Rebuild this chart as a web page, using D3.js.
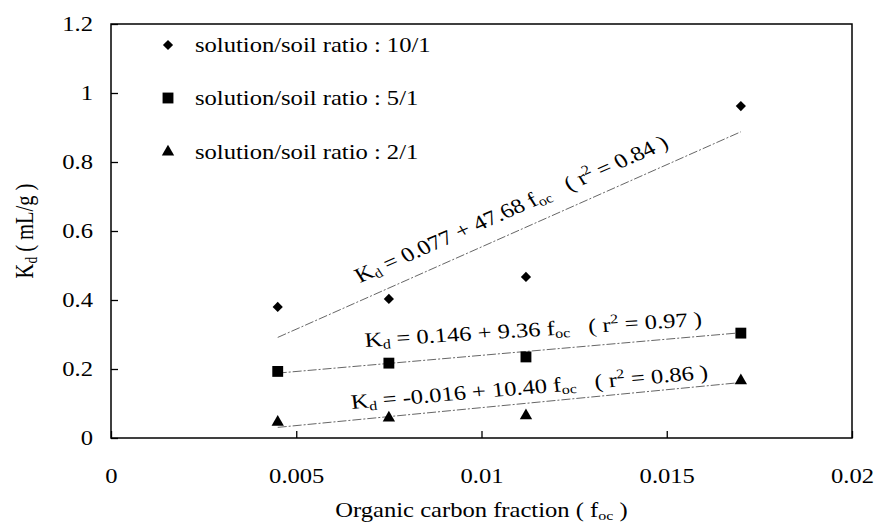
<!DOCTYPE html>
<html>
<head>
<meta charset="utf-8">
<script src="https://cdn.jsdelivr.net/npm/d3@7"></script>
<style>
  body { margin: 0; background: #fff; }
</style>
</head>
<body>
<svg id="chart" width="875" height="529"></svg>
<script>
// data
var foc = [0.0045, 0.0075, 0.0112, 0.0170];
var kd10 = [0.380, 0.403, 0.467, 0.962];
var kd5 = [0.193, 0.217, 0.235, 0.304];
var kd2 = [0.046, 0.058, 0.065, 0.166];

var seriesNames = ['solution/soil ratio : 10/1', 'solution/soil ratio : 5/1', 'solution/soil ratio : 2/1'];
var seriesShapes = ['diamond', 'square', 'triangle'];

// regression lines  Kd = a + b * foc
var fitA = [0.077, 0.146, -0.016];
var fitB = [47.68, 9.36, 10.40];
var fitR2 = ['0.84', '0.97', '0.86'];
var fitA_txt = ['0.077', '0.146', '-0.016'];
var fitB_txt = ['47.68', '9.36', '10.40'];
// where each equation label sits (data units) and its tilt
var labelX = [0.00672, 0.00686, 0.0065];
var labelY = [0.449, 0.264, 0.084];
var labelRot = [-27.8, -4.3, -5.8];

var xTicks = [0, 0.005, 0.01, 0.015, 0.02];
var xTickLabels = ['0', '0.005', '0.01', '0.015', '0.02'];
var yTicks = [0, 0.2, 0.4, 0.6, 0.8, 1, 1.2];
var yTickLabels = ['0', '0.2', '0.4', '0.6', '0.8', '1', '1.2'];

var SX = 1.2;      // the scan is a bit wider than tall, text looks stretched
var FS = 20.5;
var FONT = "'Liberation Serif', 'Times New Roman', Times, serif";

var svg = d3.select('#chart');
var m = {top: 24, right: 23, bottom: 91, left: 111};
var w = 875 - m.left - m.right;
var h = 529 - m.top - m.bottom;

var g = svg.append('g').attr('transform', 'translate(' + m.left + ',' + m.top + ')');

var x = d3.scaleLinear().domain([0, 0.02]).range([0, w]);
var y = d3.scaleLinear().domain([0, 1.2]).range([h, 0]);

function stretch(sel, px, py, rot) {
  sel.attr('transform', 'translate(' + px + ',' + py + ') scale(' + SX + ',1)' + (rot ? ' rotate(' + rot + ')' : ''));
}
function txt(parent) {
  return parent.append('text').attr('font-family', FONT).attr('font-size', FS).attr('fill', '#000');
}

// axes
var yAxis = d3.axisLeft(y).tickValues(yTicks).tickSize(-7).tickPadding(0)
  .tickFormat(function(d, i) { return yTickLabels[i]; });
var ya = g.append('g').call(yAxis).attr('font-family', FONT).attr('font-size', FS);
ya.select('.domain').remove();
ya.selectAll('.tick line').attr('stroke', '#000').attr('stroke-width', 1.3);
ya.selectAll('.tick text')
  .attr('font-family', FONT).attr('font-size', FS).attr('x', null).attr('dy', '0.34em')
  .attr('text-anchor', 'end')
  .attr('transform', 'translate(-18,0) scale(' + SX + ',1)');

var xAxis = d3.axisBottom(x).tickValues(xTicks).tickSize(-7).tickPadding(0)
  .tickFormat(function(d, i) { return xTickLabels[i]; });
var xa = g.append('g').attr('transform', 'translate(0,' + h + ')').call(xAxis)
  .attr('font-family', FONT).attr('font-size', FS);
xa.select('.domain').remove();
xa.selectAll('.tick line').attr('stroke', '#000').attr('stroke-width', 1.3);
xa.selectAll('.tick text')
  .attr('font-family', FONT).attr('font-size', FS).attr('y', null).attr('dy', null)
  .attr('text-anchor', 'middle')
  .attr('transform', 'translate(0,45) scale(' + SX + ',1)');

// frame
g.append('rect').attr('x', 0).attr('y', 0).attr('width', w).attr('height', h)
  .attr('fill', 'none').attr('stroke', '#000').attr('stroke-width', 1.5);

// axis titles
var yt = txt(svg).attr('text-anchor', 'middle');
yt.append('tspan').text('K');
yt.append('tspan').attr('font-size', FS * 0.65).attr('dy', 3).text('d');
yt.append('tspan').attr('dy', -3).text(' ( mL/g )');
stretch(yt, 33, m.top + h / 2, -90);

var xt = txt(svg).attr('text-anchor', 'middle');
xt.append('tspan').text('Organic carbon fraction ( f');
xt.append('tspan').attr('font-size', FS * 0.65).attr('dy', 3).text('oc');
xt.append('tspan').attr('dy', -3).text('  )');
stretch(xt, m.left + w / 2, 517, 0);

// fitted lines
var fitLine = d3.line().x(function(d) { return x(d[0]); }).y(function(d) { return y(d[1]); });
var xmin = d3.min(foc), xmax = d3.max(foc);
fitA.forEach(function(a, i) {
  var b = fitB[i];
  g.append('path')
    .attr('d', fitLine([[xmin, a + b * xmin], [xmax, a + b * xmax]]))
    .attr('fill', 'none').attr('stroke', '#555').attr('stroke-width', 0.9)
    .attr('stroke-dasharray', '9,2,2,2');
});

// equation labels
fitA.forEach(function(a, i) {
  var t = txt(g);
  t.append('tspan').text('K');
  t.append('tspan').attr('font-size', FS * 0.65).attr('dy', 3).text('d');
  t.append('tspan').attr('dy', -3).text(' = ' + fitA_txt[i] + ' + ' + fitB_txt[i] + ' f');
  t.append('tspan').attr('font-size', FS * 0.65).attr('dy', 3).text('oc');
  t.append('tspan').attr('dy', -3).text('\u00a0\u00a0\u00a0( r');
  t.append('tspan').attr('font-size', FS * 0.65).attr('dy', -8).text('2');
  t.append('tspan').attr('dy', 8).text(' = ' + fitR2[i] + ' )');
  stretch(t, x(labelX[i]), y(labelY[i]), labelRot[i]);
});

// markers
function sym(shape) {
  if (shape === 'diamond') return d3.symbol().type(d3.symbolSquare).size(52)();
  if (shape === 'square') return d3.symbol().type(d3.symbolSquare).size(118)();
  return d3.symbol().type(d3.symbolTriangle).size(66)();
}
var allSeries = [kd10, kd5, kd2];
allSeries.forEach(function(vals, si) {
  g.selectAll('.pt' + si).data(vals).enter().append('path')
    .attr('d', sym(seriesShapes[si]))
    .attr('transform', function(d, i) {
      return 'translate(' + x(foc[i]) + ',' + y(d) + ')' + (seriesShapes[si] === 'diamond' ? ' rotate(45)' : '');
    })
    .attr('fill', '#000');
});

// legend
var legY = [45, 98, 152];
seriesNames.forEach(function(name, i) {
  var lg = svg.append('g').attr('transform', 'translate(168,' + legY[i] + ')');
  lg.append('path').attr('d', sym(seriesShapes[i]))
    .attr('transform', seriesShapes[i] === 'diamond' ? 'rotate(45)' : null).attr('fill', '#000');
  var lt = txt(lg).attr('dy', '0.34em').text(name);
  stretch(lt, 27, 0, 0);
});
</script>
</body>
</html>
